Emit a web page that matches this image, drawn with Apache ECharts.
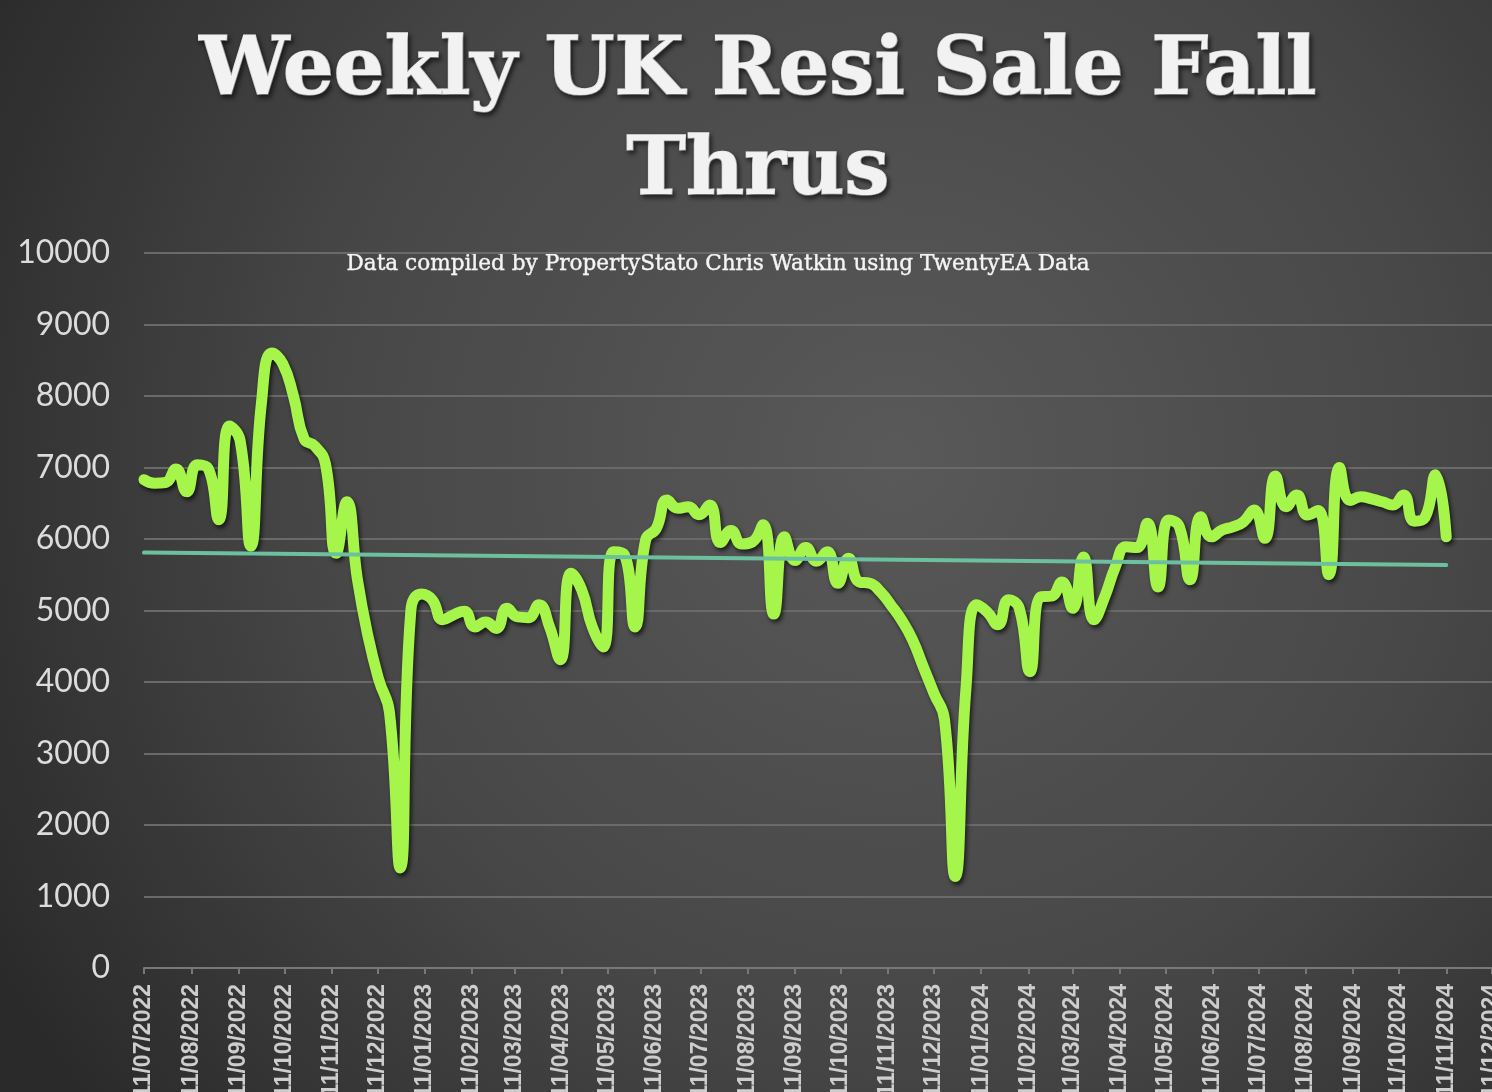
<!DOCTYPE html>
<html>
<head>
<meta charset="utf-8">
<script src="https://cdn.jsdelivr.net/npm/echarts@6/dist/echarts.min.js"></script>
<style>
html,body{margin:0;padding:0;width:1492px;height:1092px;overflow:hidden;background:#333;}
#c{width:1492px;height:1092px;}
</style>
</head>
<body>
<div id="c"></div>
<script>
// Weekly series starting 11/07/2022 (one value per week)
var startDate = [2022, 7, 11];
var weeklyValues = [
  6830, 6780, 6790, 6980, 6660, 7040, 6990, 6270, 7580, 7380,
  5900, 7900, 8600, 8450, 8000, 7400, 7300, 7050, 5800, 6520,
  5430, 4630, 4030, 3570, 1400, 5000, 5230, 5150, 4870, 4940,
  4990, 4770, 4840, 4750, 5030, 4910, 4900, 5080, 4770, 4310,
  5520, 5290, 4770, 4490, 5820, 5780, 4770, 5990, 6150, 6545,
  6430, 6450, 6340, 6475, 5950, 6120, 5930, 5960, 6200, 4950,
  6030, 5700, 5880, 5690, 5820, 5380, 5730, 5400, 5380, 5260,
  5070, 4860, 4590, 4215, 3845, 3470, 1280, 3900, 5080, 4980,
  4800, 5150, 5030, 4145, 5190, 5200, 5400, 5030, 5750, 4870,
  5190, 5610, 5890, 5880, 6220, 5330, 6265, 6170, 5430, 6310,
  6030, 6125, 6170, 6240, 6405, 6010, 6880, 6450, 6615, 6335,
  6400, 5500, 7000, 6540, 6590, 6560, 6520, 6475, 6615, 6250,
  6300, 6900, 6030
];
// linear trendline end values
var trendValues = [5810, 5635];
// month tick labels (11th of each month)
var tickMonths = [
  '11/07/2022','11/08/2022','11/09/2022','11/10/2022','11/11/2022','11/12/2022',
  '11/01/2023','11/02/2023','11/03/2023','11/04/2023','11/05/2023','11/06/2023',
  '11/07/2023','11/08/2023','11/09/2023','11/10/2023','11/11/2023','11/12/2023',
  '11/01/2024','11/02/2024','11/03/2024','11/04/2024','11/05/2024','11/06/2024',
  '11/07/2024','11/08/2024','11/09/2024','11/10/2024','11/11/2024','11/12/2024'
];
var yTicks = [0,1000,2000,3000,4000,5000,6000,7000,8000,9000,10000];

var DAY = 86400000;
var t0 = Date.UTC(startDate[0], startDate[1]-1, startDate[2]);
function dayOf(str){
  var p = str.split('/');
  return Math.round((Date.UTC(+p[2], +p[1]-1, +p[0]) - t0)/DAY);
}
var tickDays = tickMonths.map(dayOf);
var labelByDay = {};
tickMonths.forEach(function(s){ labelByDay[dayOf(s)] = s; });

var lineData = weeklyValues.map(function(v,i){ return [i*7, v]; });
var lastDay = (weeklyValues.length-1)*7;
var trendData = [[0, trendValues[0]], [lastDay, trendValues[1]]];

var titleStyle = {
  fill:'#f2f2f2', stroke:'#f2f2f2', lineWidth: 1.6,
  font: 'bold 80px "DejaVu Serif"', align:'center', verticalAlign:'middle',
  textShadowColor:'rgba(0,0,0,0.55)', textShadowBlur:4, textShadowOffsetX:2, textShadowOffsetY:3
};

var chart = echarts.init(document.getElementById('c'));
chart.setOption({
  backgroundColor: {
    type: 'radial', x: 0.6, y: 0.42, r: 0.95,
    colorStops: [
      {offset: 0, color: '#595959'},
      {offset: 0.55, color: '#474747'},
      {offset: 1, color: '#2a2a2a'}
    ]
  },
  animation: false,
  graphic: [
    {type:'text', x: 758, y: 73, style: Object.assign({text: 'Weekly UK Resi Sale Fall'}, titleStyle)},
    {type:'text', x: 758, y: 173, style: Object.assign({text: 'Thrus'}, titleStyle)},
    {type:'text', x: 718, y: 264, style:{
      text: 'Data compiled by PropertyStato Chris Watkin using TwentyEA Data', fill:'#f4f4f4',
      stroke: '#f4f4f4', lineWidth: 0.4,
      font: '21.6px "DejaVu Serif"', align:'center', verticalAlign:'middle'
    }}
  ],
  grid: {left: 144, right: 0, top: 253, bottom: 124, outerBoundsMode: 'none', containLabel: false},
  xAxis: {
    type: 'value', min: 0, max: 884,
    splitLine: {show: false},
    axisLine: {show: true, lineStyle: {color: '#787878', width: 2}},
    axisTick: {show: true, length: 6, lineStyle: {color: '#787878', width: 2}, customValues: tickDays},
    axisLabel: {
      customValues: tickDays, rotate: 90, color: '#cdcdcd', fontSize: 23, fontWeight: 'bold',
      fontFamily: '"Liberation Sans"', margin: 16, hideOverlap: false,
      formatter: function(v){ return labelByDay[Math.round(v)] || ''; }
    }
  },
  yAxis: {
    type: 'value', min: 0, max: 10000, interval: 1000,
    axisLine: {show: false}, axisTick: {show: false},
    axisLabel: {color: '#dcdcdc', fontSize: 32, fontFamily: 'Lato', margin: 34,
      formatter: function(v){ return yTicks.indexOf(v) >= 0 ? String(v) : ''; }},
    splitLine: {lineStyle: {color: '#6a6a6a', width: 2}}
  },
  series: [
    {
      type: 'line', data: lineData, smooth: 0.5, showSymbol: false, symbol: 'none',
      lineStyle: {color: '#a6f54a', width: 11, cap: 'round', join: 'round',
        shadowColor: 'rgba(0,0,0,0.65)', shadowBlur: 4, shadowOffsetX: 2, shadowOffsetY: 3},
      z: 3
    },
    {
      type: 'line', data: trendData, showSymbol: false, symbol: 'none',
      lineStyle: {color: '#6cc09f', width: 4, cap: 'round'},
      z: 4
    }
  ]
});
</script>
</body>
</html>
